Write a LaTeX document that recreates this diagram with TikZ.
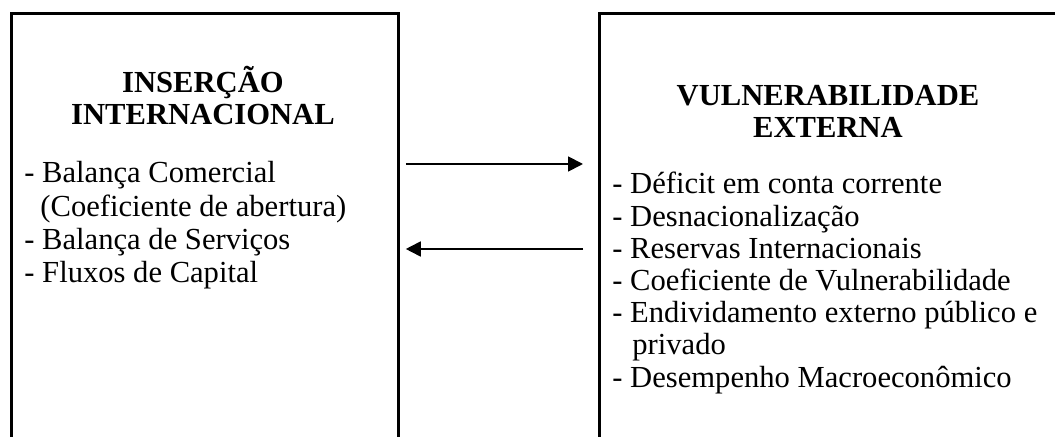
\documentclass[tikz,border=0pt]{standalone}
\usepackage{fontspec}
\setmainfont{Liberation Serif}
\usetikzlibrary{arrows.meta, positioning, calc}

\begin{document}
\begin{tikzpicture}[x=0.5pt, y=-0.5pt,
    frame/.style={draw, line width=1.4pt, inner sep=0pt, anchor=north west},
    head/.style={font=\fontsize{15.3}{16}\selectfont\bfseries, align=center, inner sep=0pt},
    items/.style={font=\fontsize{15.3}{16.7}\selectfont, align=left, inner sep=0pt, anchor=north west},
    link/.style={line width=0.9pt, -{Triangle[length=7.5pt, width=7.5pt]}}]
  \useasboundingbox (0,0) rectangle (1055,437);
  \clip (0,0) rectangle (1055,437);

  % the two blocks, both open at the bottom
  \node[frame, minimum width=193.5pt, minimum height=300pt] (ins) at (10,12) {};
  \node[frame, minimum width=231pt, minimum height=300pt] (vul) at (598,12) {};

  \node[head] (insT) at (203,96) {INSERÇÃO\\INTERNACIONAL};
  \node[head] (vulT) at (828,111) {VULNERABILIDADE\\EXTERNA};

  \node[items] (insL) at (24,161) {- Balança Comercial\\\hspace*{8pt}(Coeficiente de abertura)\\- Balança de Serviços\\- Fluxos de Capital};
  \node[items, font=\fontsize{15.3}{16.1}\selectfont] (vulL) at (612,172) {- Déficit em conta corrente\\- Desnacionalização\\- Reservas Internacionais\\- Coeficiente de Vulnerabilidade\\- Endividamento externo público e\\\hspace*{10pt}privado\\- Desempenho Macroeconômico};

  % links between the blocks
  \coordinate (top) at (0,164);
  \coordinate (bot) at (0,249);
  \draw[link, shorten <=3pt, shorten >=7.5pt] (ins.east |- top) -- (vul.west |- top);
  \draw[link, shorten <=7.5pt, shorten >=3pt] (vul.west |- bot) -- (ins.east |- bot);
\end{tikzpicture}
\end{document}
